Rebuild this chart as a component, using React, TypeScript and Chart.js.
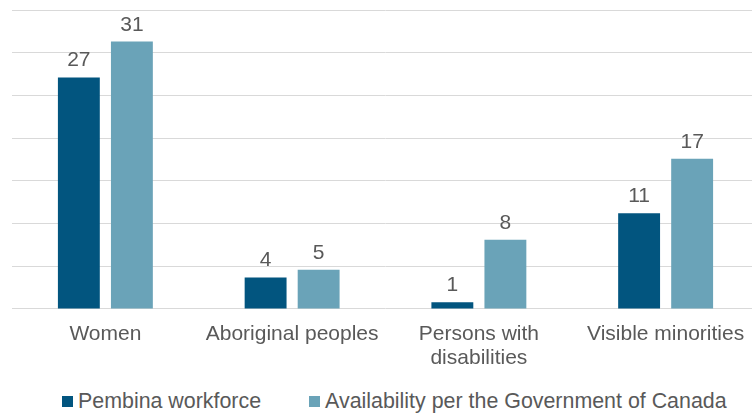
import React, { useEffect, useRef } from "react";
import { Chart, registerables } from "chart.js";

Chart.register(...registerables);

const categories: (string | string[])[] = [
  "Women",
  "Aboriginal peoples",
  ["Persons with", "disabilities"],
  "Visible minorities",
];
const seriesNames = ["Pembina workforce", "Availability per the Government of Canada"];
const pembinaValues = [27.1, 3.7, 0.8, 11.2];
const availabilityValues = [31.3, 4.6, 8.1, 17.6];
const pembinaLabels = ["27", "4", "1", "11"];
const availabilityLabels = ["31", "5", "8", "17"];
const yTicks = [0, 5, 10, 15, 20, 25, 30, 35];

const DARK = "#02557f";
const LIGHT = "#6aa3b8";
const TEXT = "#595959";
const FONT = '"Liberation Sans", Arial, sans-serif';

const valueLabelPlugin = {
  id: "valueLabels",
  afterDatasetsDraw(chart: any) {
    const ctx = chart.ctx;
    ctx.save();
    ctx.font = `21px ${FONT}`;
    ctx.fillStyle = TEXT;
    ctx.textAlign = "center";
    ctx.textBaseline = "alphabetic";
    chart.data.datasets.forEach((ds: any, i: number) => {
      const meta = chart.getDatasetMeta(i);
      meta.data.forEach((el: any, j: number) => {
        ctx.fillText(ds.valueLabels[j], el.x, el.y - 11);
      });
    });
    ctx.restore();
  },
};

export default function App() {
  const ref = useRef<HTMLCanvasElement | null>(null);

  useEffect(() => {
    document.body.style.margin = "0";
    document.body.style.overflow = "hidden";
    if (!ref.current) return;
    const chart = new Chart(ref.current, {
      type: "bar",
      data: {
        labels: categories,
        datasets: [
          {
            label: seriesNames[0],
            data: pembinaValues,
            backgroundColor: DARK,
            valueLabels: pembinaLabels,
            categoryPercentage: 0.568,
            barPercentage: 0.79,
          } as any,
          {
            label: seriesNames[1],
            data: availabilityValues,
            backgroundColor: LIGHT,
            valueLabels: availabilityLabels,
            categoryPercentage: 0.568,
            barPercentage: 0.79,
          } as any,
        ],
      },
      options: {
        animation: false,
        responsive: true,
        maintainAspectRatio: false,
        layout: { padding: { left: 12, right: 1, top: 10, bottom: 3 } },
        plugins: {
          legend: { display: false },
          tooltip: { enabled: false },
        },
        scales: {
          x: {
            grid: { display: false },
            border: { display: false },
            ticks: {
              color: TEXT,
              font: { family: FONT, size: 21, lineHeight: 1.143 },
              padding: 5,
              autoSkip: false,
              maxRotation: 0,
            },
          },
          y: {
            min: 0,
            max: 35,
            afterBuildTicks: (scale: any) => {
              scale.ticks = yTicks.map((v) => ({ value: v }));
            },
            ticks: { display: false },
            grid: { color: "#d9d9d9", lineWidth: 1, drawTicks: false },
            border: { display: false },
          },
        },
      },
      plugins: [valueLabelPlugin],
    });
    return () => chart.destroy();
  }, []);

  const legendText: React.CSSProperties = {
    fontFamily: FONT,
    fontSize: 21.4,
    color: TEXT,
    lineHeight: "21px",
    whiteSpace: "nowrap",
  };
  const box = (c: string): React.CSSProperties => ({
    width: 11,
    height: 11,
    background: c,
    marginRight: 5,
    flex: "none",
  });

  return (
    <div style={{ position: "relative", width: 752, height: 418, overflow: "hidden" }}>
      <div style={{ position: "absolute", left: 0, top: 0, width: 760, height: 378 }}>
        <canvas ref={ref} />
      </div>
      <div
        style={{
          position: "absolute",
          left: 62,
          top: 391,
          display: "flex",
          alignItems: "center",
        }}
      >
        <div style={box(DARK)} />
        <span style={legendText}>{seriesNames[0]}</span>
        <div style={{ ...box(LIGHT), marginLeft: 48 }} />
        <span style={legendText}>{seriesNames[1]}</span>
      </div>
    </div>
  );
}
